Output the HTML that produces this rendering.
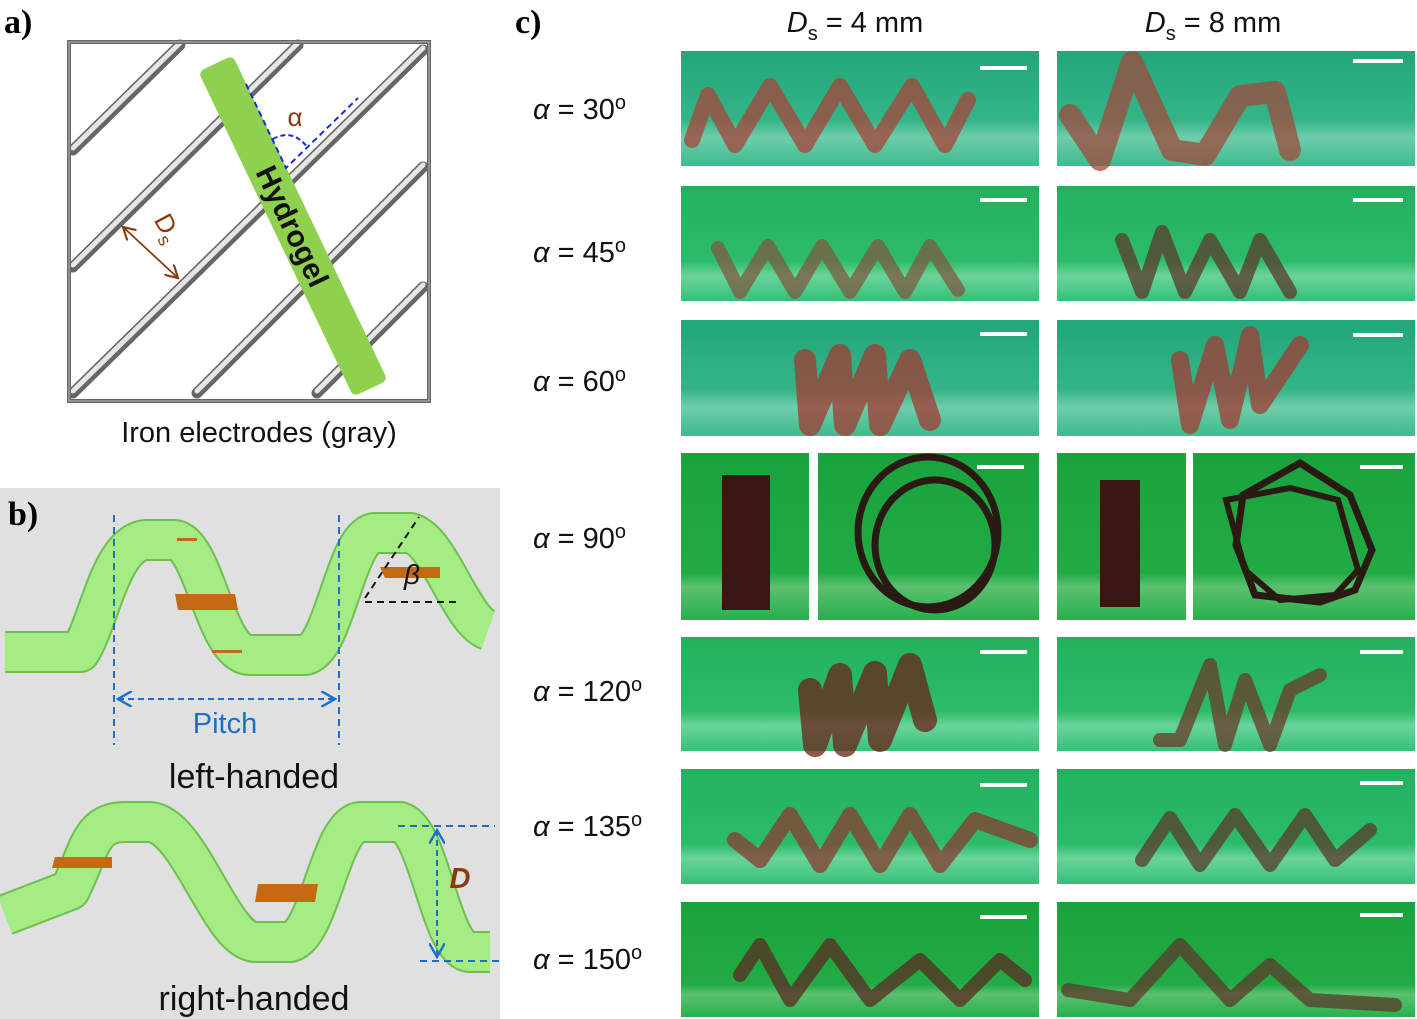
<!DOCTYPE html>
<html><head><meta charset="utf-8"><style>
html,body{margin:0;padding:0;background:#fff;}
svg{display:block;font-family:"Liberation Sans",sans-serif;}
</style></head><body>
<svg width="1417" height="1019" viewBox="0 0 1417 1019" xmlns="http://www.w3.org/2000/svg">
<defs>
<linearGradient id="teal" x1="0" y1="0" x2="0" y2="1"><stop offset="0" stop-color="#22a77a"/><stop offset="0.6" stop-color="#33b587"/><stop offset="0.75" stop-color="#6fcdaa"/><stop offset="1" stop-color="#3cbc8c"/></linearGradient>
<linearGradient id="grn" x1="0" y1="0" x2="0" y2="1"><stop offset="0" stop-color="#22b25e"/><stop offset="0.65" stop-color="#2cbb6a"/><stop offset="0.78" stop-color="#6ad49a"/><stop offset="1" stop-color="#35c07a"/></linearGradient>
<linearGradient id="g90" x1="0" y1="0" x2="0" y2="1"><stop offset="0" stop-color="#1aa23c"/><stop offset="0.72" stop-color="#22ab45"/><stop offset="0.8" stop-color="#5cc070"/><stop offset="1" stop-color="#27b04c"/></linearGradient>
<marker id="ab" markerWidth="8" markerHeight="8" refX="7" refY="4" orient="auto-start-reverse"><path d="M0,0 L7,4 L0,8" fill="none" stroke="#8b3a10" stroke-width="1.2"/></marker>
<marker id="ablue" markerWidth="8" markerHeight="8" refX="7" refY="4" orient="auto-start-reverse"><path d="M0,0 L7,4 L0,8" fill="none" stroke="#1a6fc9" stroke-width="1.2"/></marker>
</defs>

<!-- Panel a -->
<text x="4" y="33" font-family="Liberation Serif,serif" font-weight="bold" font-size="34">a)</text>
<g stroke-linecap="round">
<g stroke="#666" stroke-width="11">
<line x1="73" y1="150" x2="180" y2="45"/><line x1="73" y1="267" x2="298" y2="45"/><line x1="73" y1="393" x2="423" y2="50"/><line x1="197" y1="393" x2="423" y2="167"/><line x1="317" y1="393" x2="423" y2="287"/>
</g>
<g stroke="#e6e6e6" stroke-width="5">
<line x1="73" y1="148" x2="180" y2="43"/><line x1="73" y1="265" x2="298" y2="43"/><line x1="73" y1="391" x2="423" y2="48"/><line x1="197" y1="391" x2="423" y2="165"/><line x1="317" y1="391" x2="423" y2="285"/>
</g>
</g>
<rect x="69" y="42" width="360" height="359" fill="none" stroke="#666" stroke-width="4"/>
<rect x="69" y="42" width="360" height="359" fill="none" stroke="#bbb" stroke-width="1"/>
<g transform="translate(293,226) rotate(-25.5)">
<rect x="-19" y="-180" width="38" height="360" rx="6" fill="#8fd14f"/>
<text x="0" y="0" transform="rotate(90)" text-anchor="middle" dy="11" font-size="30" font-weight="bold" fill="#111">Hydrogel</text>
</g>
<path d="M246,84 L286,168 L358,98" fill="none" stroke="#1b2cd8" stroke-width="2" stroke-dasharray="6,4"/>
<path d="M273,139 Q293,128 308,148" fill="none" stroke="#1b2cd8" stroke-width="2" stroke-dasharray="5,3"/>
<text x="295" y="126" font-size="26" fill="#8b3a10" text-anchor="middle">α</text>
<line x1="123" y1="227" x2="178" y2="278" stroke="#8b3a10" stroke-width="1.8" marker-start="url(#ab)" marker-end="url(#ab)"/>
<text x="160" y="232" font-size="26" fill="#8b3a10" transform="rotate(62 160 232)" text-anchor="middle">D<tspan font-size="18" dy="6">s</tspan></text>
<text x="259" y="442" font-size="29" text-anchor="middle" fill="#111">Iron electrodes (gray)</text>

<!-- Panel b -->
<rect x="0" y="488" width="500" height="531" fill="#e0e0e0"/>
<text x="8" y="525" font-family="Liberation Serif,serif" font-weight="bold" font-size="34">b)</text>
<g fill="none" stroke-linejoin="round">
<path d="M5,652 L80,652 C100,620 110,545 145,540 L175,540 C205,545 215,655 250,655 L305,655 C335,650 345,535 375,533 L410,533 C440,540 460,620 488,630" stroke="#6dbf4e" stroke-width="42"/>
<path d="M5,652 L80,652 C100,620 110,545 145,540 L175,540 C205,545 215,655 250,655 L305,655 C335,650 345,535 375,533 L410,533 C440,540 460,620 488,630" stroke="#a6ec85" stroke-width="38"/>
<path d="M5,915 L70,890 C90,850 90,822 125,822 L150,822 C190,825 220,940 255,942 L290,942 C320,935 330,825 360,822 L400,822 C430,830 440,950 470,952 L490,952" stroke="#6dbf4e" stroke-width="42"/>
<path d="M5,915 L70,890 C90,850 90,822 125,822 L150,822 C190,825 220,940 255,942 L290,942 C320,935 330,825 360,822 L400,822 C430,830 440,950 470,952 L490,952" stroke="#a6ec85" stroke-width="38"/>
</g>
<g fill="#c46a12">
<polygon points="175,594 235,594 238,610 178,610"/><polygon points="380,567 440,567 440,578 385,578"/>
<polygon points="55,857 112,857 112,868 52,868"/><polygon points="258,884 318,884 315,902 255,902"/>
<rect x="177" y="538" width="20" height="3"/><rect x="212" y="650" width="30" height="3"/>
</g>
<g stroke="#1a6fc9" stroke-width="2" stroke-dasharray="7,5" fill="none">
<line x1="114" y1="515" x2="114" y2="745"/><line x1="339" y1="515" x2="339" y2="745"/>
<line x1="118" y1="699" x2="335" y2="699" stroke-dasharray="6,4" marker-start="url(#ablue)" marker-end="url(#ablue)"/>
<line x1="398" y1="826" x2="495" y2="826"/><line x1="420" y1="961" x2="500" y2="961"/>
<line x1="437" y1="830" x2="437" y2="957" stroke-dasharray="6,4" marker-start="url(#ablue)" marker-end="url(#ablue)"/>
</g>
<g stroke="#111" stroke-width="2" stroke-dasharray="7,5" fill="none">
<line x1="365" y1="598" x2="419" y2="517"/><line x1="365" y1="602" x2="457" y2="602"/>
</g>
<text x="412" y="584" font-size="28" font-style="italic" fill="#111" text-anchor="middle">β</text>
<text x="225" y="733" font-size="29" fill="#1a6fc9" text-anchor="middle">Pitch</text>
<text x="254" y="788" font-size="34" fill="#111" text-anchor="middle">left-handed</text>
<text x="460" y="888" font-size="29" font-style="italic" font-weight="bold" fill="#8b3a10" text-anchor="middle">D</text>
<text x="254" y="1010" font-size="34" fill="#111" text-anchor="middle">right-handed</text>

<!-- Panel c -->
<text x="515" y="33" font-family="Liberation Serif,serif" font-weight="bold" font-size="34">c)</text>
<text x="855" y="32" font-size="29" text-anchor="middle" fill="#111"><tspan font-style="italic">D</tspan><tspan font-size="20" dy="8">s</tspan><tspan dy="-8"> = 4 mm</tspan></text>
<text x="1213" y="32" font-size="29" text-anchor="middle" fill="#111"><tspan font-style="italic">D</tspan><tspan font-size="20" dy="8">s</tspan><tspan dy="-8"> = 8 mm</tspan></text>
<g font-size="29" fill="#111">
<text x="533" y="119"><tspan font-style="italic">α</tspan> = 30<tspan font-size="20" dy="-10">o</tspan></text>
<text x="533" y="262"><tspan font-style="italic">α</tspan> = 45<tspan font-size="20" dy="-10">o</tspan></text>
<text x="533" y="391"><tspan font-style="italic">α</tspan> = 60<tspan font-size="20" dy="-10">o</tspan></text>
<text x="533" y="548"><tspan font-style="italic">α</tspan> = 90<tspan font-size="20" dy="-10">o</tspan></text>
<text x="533" y="701"><tspan font-style="italic">α</tspan> = 120<tspan font-size="20" dy="-10">o</tspan></text>
<text x="533" y="836"><tspan font-style="italic">α</tspan> = 135<tspan font-size="20" dy="-10">o</tspan></text>
<text x="533" y="969"><tspan font-style="italic">α</tspan> = 150<tspan font-size="20" dy="-10">o</tspan></text>
</g>

<rect x="681" y="51" width="358" height="115" fill="url(#teal)"/>
<rect x="1057" y="51" width="358" height="115" fill="url(#teal)"/>
<rect x="681" y="186" width="358" height="115" fill="url(#grn)"/>
<rect x="1057" y="186" width="358" height="115" fill="url(#grn)"/>
<rect x="681" y="320" width="358" height="116" fill="url(#teal)"/>
<rect x="1057" y="320" width="358" height="116" fill="url(#teal)"/>
<rect x="681" y="453" width="128" height="167" fill="url(#g90)"/>
<rect x="818" y="453" width="221" height="167" fill="url(#g90)"/>
<rect x="1057" y="453" width="129" height="167" fill="url(#g90)"/>
<rect x="1193" y="453" width="222" height="167" fill="url(#g90)"/>
<rect x="681" y="637" width="358" height="114" fill="url(#grn)"/>
<rect x="1057" y="637" width="358" height="114" fill="url(#grn)"/>
<rect x="681" y="769" width="358" height="115" fill="url(#grn)"/>
<rect x="1057" y="769" width="358" height="115" fill="url(#grn)"/>
<rect x="681" y="902" width="358" height="115" fill="url(#g90)"/>
<rect x="1057" y="902" width="358" height="115" fill="url(#g90)"/>

<g fill="none" stroke-linejoin="round" stroke-linecap="round" opacity="0.75">
<polyline points="692,140 708,95 735,145 770,86 805,145 840,86 875,145 912,86 945,145 968,100" stroke="#a8443a" stroke-width="16"/>
<polyline points="1070,115 1100,160 1132,62 1172,150 1205,155 1240,96 1275,92 1290,150" stroke="#a04a3e" stroke-width="22"/>
<polyline points="718,248 740,292 768,246 795,292 822,246 850,292 878,246 905,292 930,246 958,290" stroke="#7d5a40" stroke-width="14"/>
<polyline points="1122,240 1142,292 1162,232 1185,292 1210,240 1240,292 1260,240 1290,292" stroke="#5a3a2a" stroke-width="14"/>
<polyline points="805,360 810,425 840,355 845,425 875,355 880,425 910,360 930,420" stroke="#a33a34" stroke-width="22"/>
<polyline points="1180,360 1190,425 1215,345 1230,420 1250,335 1260,405 1300,345" stroke="#a33a34" stroke-width="18"/>
<polyline points="810,690 815,745 840,675 845,745 875,673 880,740 910,665 925,720" stroke="#6a2218" stroke-width="24"/>
<polyline points="1160,740 1180,740 1210,665 1225,745 1245,680 1270,745 1290,690 1320,675" stroke="#6a3a2a" stroke-width="14"/>
<polyline points="735,840 760,860 790,815 820,865 850,815 880,865 910,815 940,865 975,820 1030,840" stroke="#8a3a30" stroke-width="16"/>
<polyline points="1142,860 1170,818 1200,865 1235,815 1270,865 1305,815 1335,860 1370,830" stroke="#5a3a2a" stroke-width="14"/>
<polyline points="740,975 760,945 790,1000 830,945 870,1000 920,960 960,1000 1000,960 1025,980" stroke="#5a2a22" stroke-width="14"/>
<polyline points="1068,990 1130,1000 1180,945 1230,1000 1270,965 1310,1000 1395,1005" stroke="#5a3a2a" stroke-width="14"/>
</g>
<rect x="722" y="475" width="48" height="135" fill="#3a1712"/>
<ellipse cx="928" cy="532" rx="70" ry="75" fill="none" stroke="#2a1a14" stroke-width="7"/>
<ellipse cx="935" cy="545" rx="60" ry="65" fill="none" stroke="#2a1a14" stroke-width="7"/>
<rect x="1100" y="480" width="40" height="127" fill="#3a1712"/>
<polygon points="1243,495 1300,463 1350,495 1372,550 1355,590 1320,602 1255,595 1236,545" fill="none" stroke="#2a1a14" stroke-width="7"/>
<polygon points="1226,500 1290,488 1338,500 1358,570 1335,595 1280,600 1245,570" fill="none" stroke="#2a1a14" stroke-width="6"/>

<g stroke="#fff" stroke-width="4">
<line x1="980" y1="68" x2="1027" y2="68"/><line x1="1353" y1="61" x2="1403" y2="61"/>
<line x1="980" y1="200" x2="1027" y2="200"/><line x1="1353" y1="200" x2="1403" y2="200"/>
<line x1="980" y1="334" x2="1027" y2="334"/><line x1="1353" y1="335" x2="1403" y2="335"/>
<line x1="977" y1="467" x2="1024" y2="467"/><line x1="1360" y1="467" x2="1403" y2="467"/>
<line x1="980" y1="652" x2="1027" y2="652"/><line x1="1360" y1="652" x2="1403" y2="652"/>
<line x1="980" y1="785" x2="1027" y2="785"/><line x1="1360" y1="783" x2="1403" y2="783"/>
<line x1="980" y1="917" x2="1027" y2="917"/><line x1="1360" y1="915" x2="1403" y2="915"/>
</g>
</svg>
</body></html>
